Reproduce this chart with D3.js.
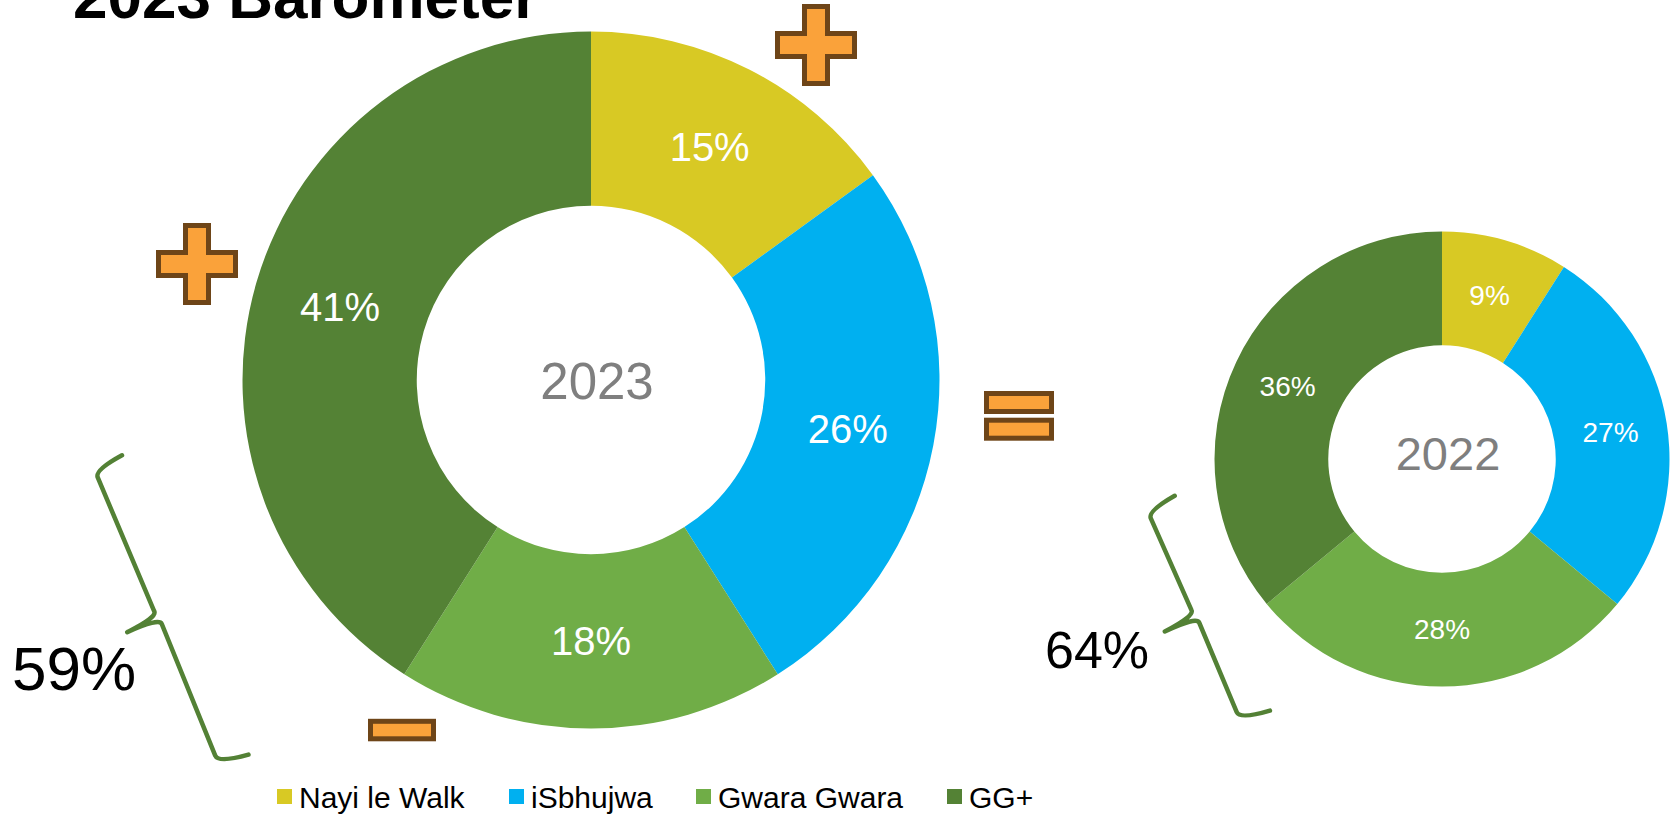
<!DOCTYPE html>
<html>
<head>
<meta charset="utf-8">
<script src="https://cdn.jsdelivr.net/npm/d3@7"></script>
<style>
body { margin: 0; background: #fff; }
text { font-family: "Liberation Sans", Arial, sans-serif; }
</style>
</head>
<body>
<div class="content"></div>
<script>
// data
var categories = ["Nayi le Walk", "iSbhujwa", "Gwara Gwara", "GG+"];
var values2023 = [15, 26, 18, 41];
var values2022 = [9, 27, 28, 36];
var changes = ["+", "=", "-", "+"]; // 2023 vs 2022
var colors = ["#D8C924", "#00B0F0", "#70AD47", "#548235"];

var width = 1672, height = 816;
var svg = d3.select(".content").append("svg").attr("width", width).attr("height", height);

svg.append("text").attr("x", 73).attr("y", 18)
	.attr("font-size", 62).attr("font-weight", "bold").attr("fill", "#000")
	.text("2023 Barometer");

var pie = d3.pie().sort(null).value(function(d){ return d; });

function donut(vals, year, cx, cy, R, labelSize, yearSize, yearDx, yearDy){
	var g = svg.append("g").attr("transform", "translate(" + cx + "," + cy + ")");
	var arc = d3.arc().innerRadius(R * 0.5).outerRadius(R);
	var arcs = pie(vals);
	g.selectAll("path").data(arcs).enter().append("path")
		.attr("d", arc).attr("fill", function(d, i){ return colors[i]; });
	g.selectAll("text.lbl").data(arcs).enter().append("text").attr("class", "lbl")
		.attr("transform", function(d){ return "translate(" + arc.centroid(d) + ")"; })
		.attr("text-anchor", "middle").attr("dominant-baseline", "central")
		.attr("font-size", labelSize).attr("fill", "#fff")
		.text(function(d){ return d.data + "%"; });
	g.append("text").attr("x", yearDx).attr("y", yearDy)
		.attr("text-anchor", "middle").attr("dominant-baseline", "central")
		.attr("font-size", yearSize).attr("fill", "#7F7F7F").text(year);
	return arc;
}

donut(values2023, "2023", 591, 380, 348.5, 40, 51, 6, 1);
donut(values2022, "2022", 1442, 459, 227.5, 28, 47, 6, -6);

// braces showing Gwara Gwara + GG+ share
function brace(x, y, L, rot, label, lx, ly, size){
	var m = L / 2, h = 31, n = 33;
	var p = d3.path();
	p.moveTo(h, -4);
	p.quadraticCurveTo(0, -1, 0, 7);
	p.lineTo(0, m - 6);
	p.quadraticCurveTo(1, m + 1, -n, m + 3);
	p.quadraticCurveTo(2, m + 2, 2, m + 9);
	p.lineTo(0, L - 7);
	p.quadraticCurveTo(0, L + 1, h, L + 5);
	svg.append("path").attr("d", p.toString())
		.attr("transform", "translate(" + x + "," + y + ") rotate(" + rot + ")")
		.attr("fill", "none").attr("stroke", "#538135").attr("stroke-width", 4.5)
		.attr("stroke-linecap", "round").attr("stroke-linejoin", "round");
	svg.append("text").attr("x", lx).attr("y", ly).attr("font-size", size)
		.attr("fill", "#000").text(label);
}
var sum2023 = values2023[2] + values2023[3];
var sum2022 = values2022[2] + values2022[3];
brace(95, 471, 316, -22.9, sum2023 + "%", 12, 690, 62);
brace(1148, 512, 226, -23.9, sum2022 + "%", 1045, 668, 52);

// change markers around the 2023 donut
var markerPos = [[816, 45], [1019, 416], [402, 730], [197, 264]];
function marker(type, x, y){
	var g = svg.append("g").attr("transform", "translate(" + x + "," + y + ")")
		.attr("fill", "#FAA23A").attr("stroke", "#6E4518").attr("stroke-width", 5);
	if (type === "+") {
		var a = 38.5, t = 11.5;
		g.append("path").attr("d", "M" + -t + "," + -a + "H" + t + "V" + -t + "H" + a + "V" + t + "H" + t +
			"V" + a + "H" + -t + "V" + t + "H" + -a + "V" + -t + "H" + -t + "Z");
	} else if (type === "=") {
		g.append("rect").attr("x", -32.5).attr("y", -22.5).attr("width", 65).attr("height", 18);
		g.append("rect").attr("x", -32.5).attr("y", 4.2).attr("width", 65).attr("height", 18);
	} else {
		g.append("rect").attr("x", -31.5).attr("y", -8.7).attr("width", 63).attr("height", 17.5);
	}
}
changes.forEach(function(c, i){ marker(c, markerPos[i][0], markerPos[i][1]); });

// legend
var legX = [277, 509, 696, 947];
var leg = svg.selectAll("g.leg").data(categories).enter().append("g").attr("class", "leg")
	.attr("transform", function(d, i){ return "translate(" + legX[i] + ",797)"; });
leg.append("rect").attr("x", 0).attr("y", -8).attr("width", 15).attr("height", 15)
	.attr("fill", function(d, i){ return colors[i]; });
leg.append("text").attr("x", 22).attr("y", 0).attr("dominant-baseline", "central")
	.attr("font-size", 30).attr("fill", "#000").text(function(d){ return d; });
</script>
</body>
</html>
